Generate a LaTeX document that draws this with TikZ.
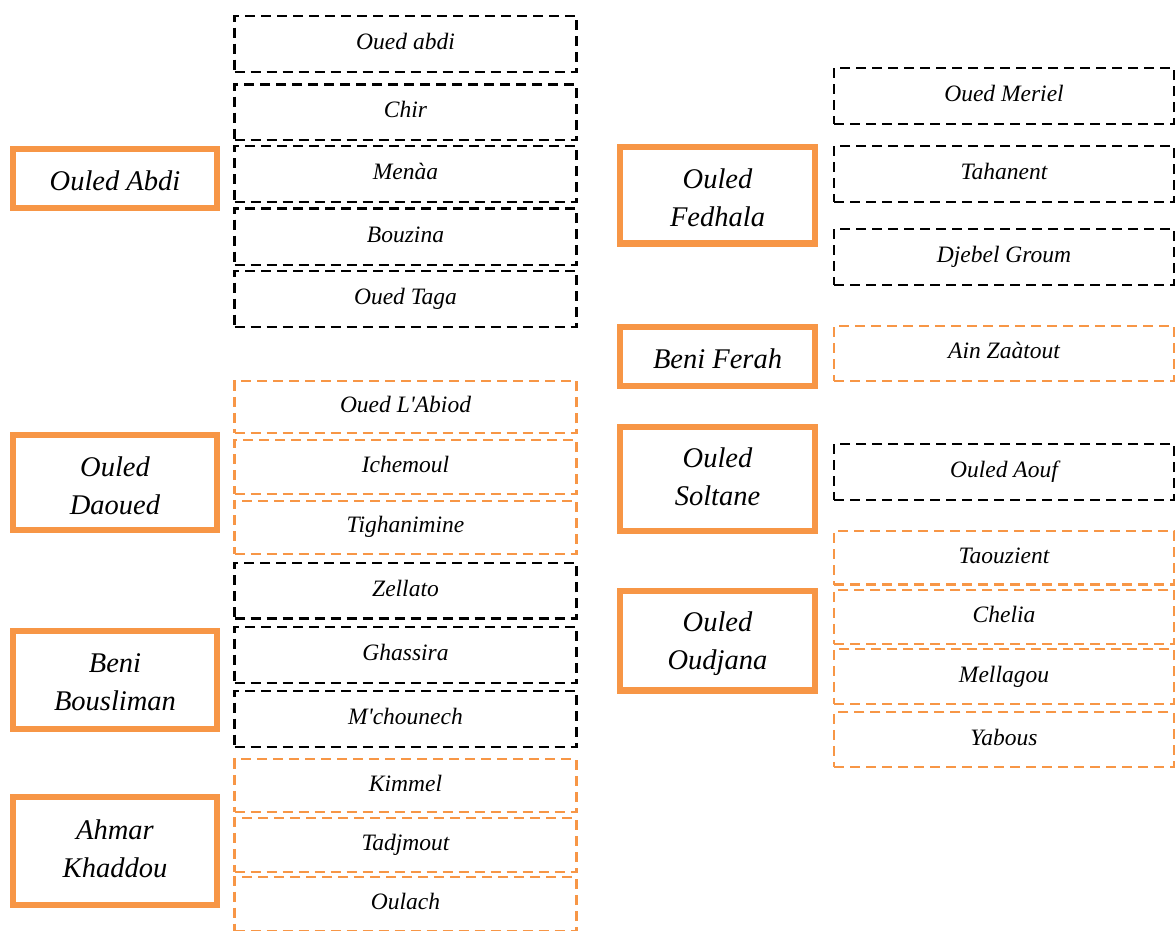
\documentclass[tikz,border=0pt]{standalone}
\usepackage{fontspec}
\setmainfont{Liberation Serif}[Ligatures=TeXOff]
\definecolor{org}{HTML}{F79646}
\tikzset{
  mainbox/.style={draw=org, line width=6.5pt, inner sep=0pt, minimum width=#1},
  mainbox/.default=204pt,
  maintext/.style={inner sep=0pt, align=center,
    font=\fontsize{28.5}{38}\selectfont\itshape},
  subbox/.style={draw=black, line width=2.4pt, dash pattern=on 10pt off 6pt,
    inner sep=0pt, font=\fontsize{23.5}{28}\selectfont\itshape,
    text height=16pt, text depth=5pt, minimum width=342pt},
  subor/.style={subbox, draw=org, line width=2.2pt},
}
\begin{document}
\begin{tikzpicture}[x=1pt,y=-1pt]
\clip (0,0) rectangle (1176,930);
% left main boxes
\node[mainbox, minimum height=59pt] (oa) at (115,178.5) {};
\node[maintext] (oat) at (115,180.5) {Ouled Abdi};
\node[mainbox, minimum height=95pt] (od) at (115,482.5) {};
\node[maintext] (odt) at (115,485.5) {Ouled\\Daoued};
\node[mainbox, minimum height=98pt] (bb) at (115,680) {};
\node[maintext] (bbt) at (115,682) {Beni\\Bousliman};
\node[mainbox, minimum height=108pt] (ak) at (115,851) {};
\node[maintext] (akt) at (115,849) {Ahmar\\Khaddou};
% right main boxes
\node[mainbox=195pt, minimum height=96.7pt] (of) at (717.5,195.3) {};
\node[maintext] (oft) at (717.5,197.8) {Ouled\\Fedhala};
\node[mainbox=195pt, minimum height=59pt] (bf) at (717.5,356.5) {};
\node[maintext] (bft) at (717.5,358.5) {Beni Ferah};
\node[mainbox=195pt, minimum height=104pt] (os) at (717.5,479) {};
\node[maintext] (ost) at (717.5,476.5) {Ouled\\Soltane};
\node[mainbox=195pt, minimum height=99.5pt] (oo) at (717.5,640.75) {};
\node[maintext] (oot) at (717.5,644) {Ouled\\Oudjana};
% left sub boxes
\node[subbox, minimum height=56pt] (s1) at (405.5,43.7) {Oued abdi};
\node[subbox, minimum height=55.7pt] (s2) at (405.5,112.2) {Chir};
\node[subbox, minimum height=56pt] (s3) at (405.5,174) {Menàa};
\node[subbox, minimum height=56.7pt] (s4) at (405.5,236.7) {Bouzina};
\node[subbox, minimum height=56pt] (s5) at (405.5,298.7) {Oued Taga};
\node[subor, minimum height=52.3pt] (s6) at (405.5,407.2) {Oued L'Abiod};
\node[subor, minimum height=54pt] (s7) at (405.5,467) {Ichemoul};
\node[subor, minimum height=53.3pt] (s8) at (405.5,527.3) {Tighanimine};
\node[subbox, minimum height=55.6pt] (s9) at (405.5,590.5) {Zellato};
\node[subbox, minimum height=56pt] (s10) at (405.5,654.7) {Ghassira};
\node[subbox, minimum height=56pt] (s11) at (405.5,718.7) {M'chounech};
\node[subor, minimum height=52.4pt] (s12) at (405.5,785.5) {Kimmel};
\node[subor, minimum height=53.4pt] (s13) at (405.5,845) {Tadjmout};
\node[subor, minimum height=53.7pt] (s14) at (405.5,904.2) {Oulach};
% right sub boxes
\node[subbox, minimum width=340pt, minimum height=56pt] (r1) at (1004,96) {Oued Meriel};
\node[subbox, minimum width=340pt, minimum height=56pt] (r2) at (1004,174) {Tahanent};
\node[subbox, minimum width=340pt, minimum height=56pt] (r3) at (1004,257) {Djebel Groum};
\node[subor, minimum width=340pt, minimum height=54.7pt] (r4) at (1004,353.3) {Ain Zaàtout};
\node[subbox, minimum width=340pt, minimum height=56pt] (r5) at (1004,472) {Ouled Aouf};
\node[subor, minimum width=340pt, minimum height=53.6pt] (r6) at (1004,557.7) {Taouzient};
\node[subor, minimum width=340pt, minimum height=54.3pt] (r7) at (1004,617.2) {Chelia};
\node[subor, minimum width=340pt, minimum height=55.3pt] (r8) at (1004,676.7) {Mellagou};
\node[subor, minimum width=340pt, minimum height=54.4pt] (r9) at (1004,739.5) {Yabous};
\end{tikzpicture}
\end{document}
